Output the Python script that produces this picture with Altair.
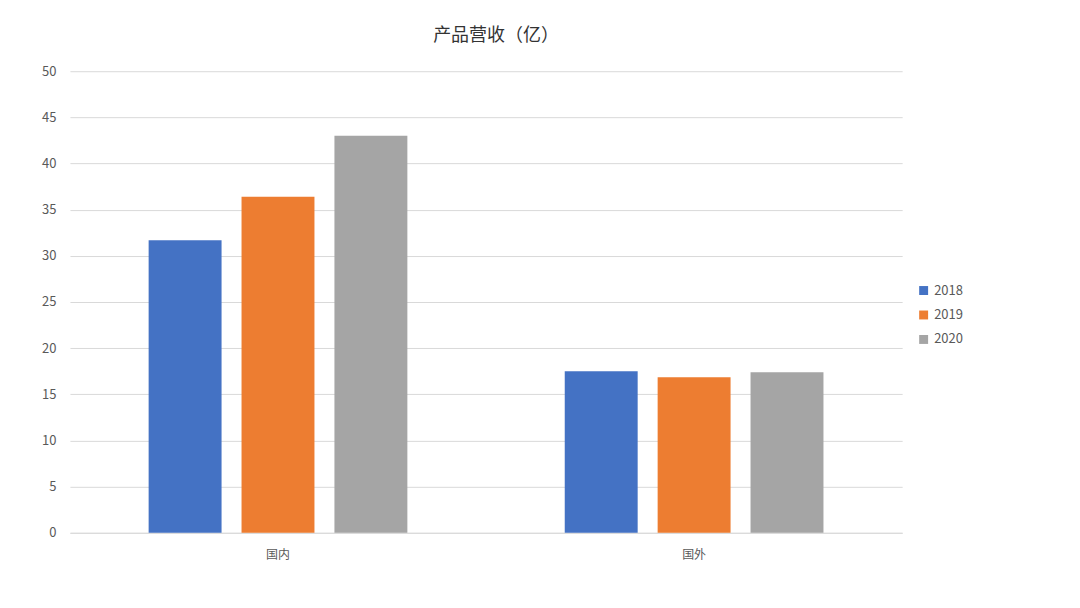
import altair as alt
import pandas as pd

categories = ["国内", "国外"]
years = ["2018", "2019", "2020"]
values_2018 = [31.7, 17.5]
values_2019 = [36.4, 16.85]
values_2020 = [43.0, 17.4]
colors = ["#4472C4", "#ED7D31", "#A5A5A5"]
y_ticks = list(range(0, 55, 5))

rows = []
for yr, vals in zip(years, [values_2018, values_2019, values_2020]):
    for c, v in zip(categories, vals):
        rows.append({"地区": c, "年份": yr, "营收": v})
df = pd.DataFrame(rows)

font = "Noto Sans CJK SC"

chart = alt.Chart(df).mark_bar().encode(
    x=alt.X("地区:N", sort=categories,
            scale=alt.Scale(paddingInner=0.33, paddingOuter=0.165),
            axis=alt.Axis(title=None, labelAngle=0, ticks=False, labelPadding=17,
                          domainColor="#d9d9d9", labelColor="#595959",
                          labelFontSize=12, labelFont=font, grid=False)),
    xOffset=alt.XOffset("年份:N", sort=years,
                        scale=alt.Scale(paddingInner=0.215, paddingOuter=0.108)),
    y=alt.Y("营收:Q", scale=alt.Scale(domain=[0, 50], nice=False),
            axis=alt.Axis(title=None, values=y_ticks, ticks=False, domain=False,
                          labelPadding=14, gridColor="#d9d9d9", labelColor="#595959",
                          labelFontSize=13, labelFont=font)),
    color=alt.Color("年份:N", sort=years,
                    scale=alt.Scale(domain=years, range=colors),
                    legend=alt.Legend(title=None, orient="none", legendX=848, legendY=213,
                                      symbolType="square", symbolSize=80,
                                      labelFontSize=13, labelColor="#595959",
                                      labelFont=font, rowPadding=10.5)),
).properties(
    width=833,
    height=462,
    title=alt.TitleParams("产品营收（亿）", font=font, fontSize=18, fontWeight="normal",
                          color="#333333", anchor="middle", dx=10, offset=20),
    autosize=alt.AutoSizeParams(type="none"),
    padding={"left": 62, "top": 63, "right": 170, "bottom": 60},
).configure_view(stroke=None)

chart.save("out.html", embed_options={"renderer": "svg", "actions": False})
